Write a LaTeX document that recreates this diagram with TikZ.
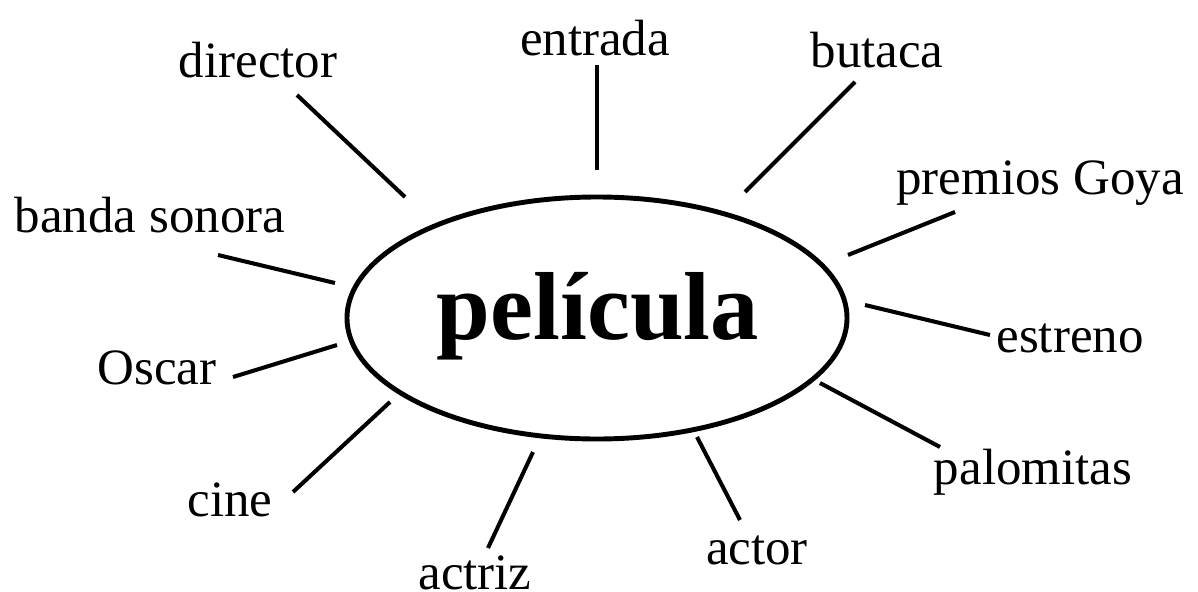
\documentclass[tikz,border=0pt]{standalone}
\usepackage{fontspec}
\setmainfont{Liberation Serif}
\usetikzlibrary{shapes.geometric}
\begin{document}
\begin{tikzpicture}[x=0.02cm,y=-0.02cm,
  lbl/.style={font=\fontsize{29}{30}\selectfont, inner sep=0pt},
  spoke/.style={line width=2.3pt}]
\useasboundingbox (0,0) rectangle (1198,592);
\node[draw, ellipse, line width=2.8pt, minimum width=500*0.02cm, minimum height=242*0.02cm, inner sep=0pt] (c) at (597,318) {};
\node[font=\fontsize{55}{56}\selectfont\bfseries, inner sep=0pt] (t) at (598,316) {película};
\node[lbl] (director) at (258,60) {director};
\node[lbl] (entrada) at (595,38) {entrada};
\node[lbl] (butaca) at (877,50) {butaca};
\node[lbl] (goya) at (1040,183) {premios Goya};
\node[lbl] (banda) at (150,215) {banda sonora};
\node[lbl] (estreno) at (1070,338) {estreno};
\node[lbl] (oscar) at (157,368) {Oscar};
\node[lbl] (palomitas) at (1033,472) {palomitas};
\node[lbl] (cine) at (230,500) {cine};
\node[lbl] (actor) at (757,550) {actor};
\node[lbl] (actriz) at (475,573) {actriz};
\coordinate (d1) at (297,95);  \coordinate (d2) at (405,197);
\coordinate (e1) at (597,65);  \coordinate (e2) at (597,170);
\coordinate (b1) at (855,82);  \coordinate (b2) at (745,192);
\coordinate (g1) at (955,212); \coordinate (g2) at (848,255);
\coordinate (s1) at (218,255); \coordinate (s2) at (335,283);
\coordinate (r1) at (990,335); \coordinate (r2) at (865,305);
\coordinate (o1) at (233,377); \coordinate (o2) at (337,345);
\coordinate (p1) at (940,447); \coordinate (p2) at (820,383);
\coordinate (n1) at (293,492); \coordinate (n2) at (390,402);
\coordinate (a1) at (740,520); \coordinate (a2) at (697,437);
\coordinate (z1) at (488,548); \coordinate (z2) at (533,452);
\foreach \u/\v in {d1/d2,e1/e2,b1/b2,g1/g2,s1/s2,r1/r2,o1/o2,p1/p2,n1/n2,a1/a2,z1/z2}
  \draw[spoke] (\u) -- (\v);
\end{tikzpicture}
\end{document}
